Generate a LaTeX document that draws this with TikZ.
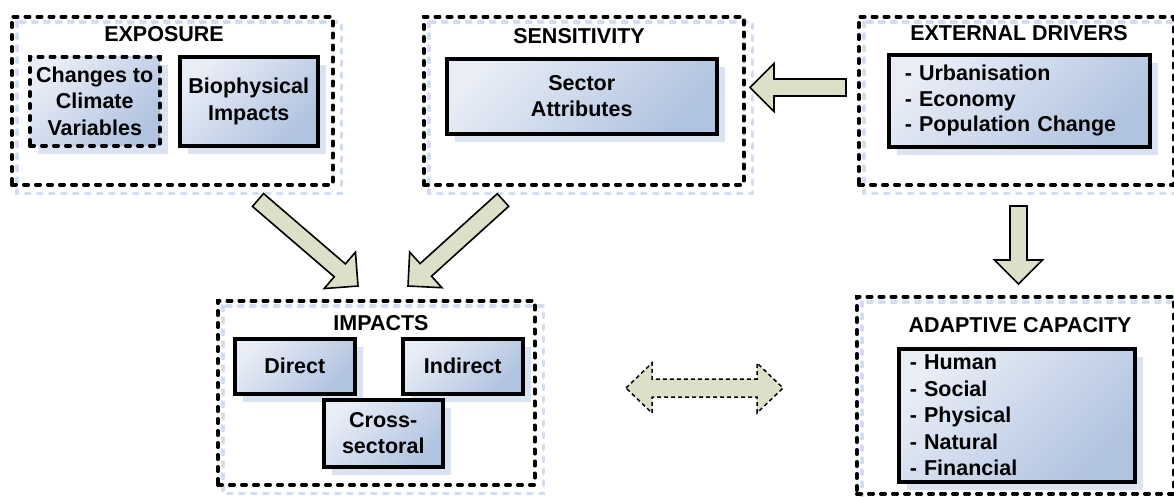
\documentclass[tikz,border=0pt]{standalone}
\usepackage{fontspec}
\setmainfont{Liberation Sans}
\usetikzlibrary{calc,shadows,backgrounds}
\definecolor{shadowblue}{RGB}{210,221,240}
\definecolor{itemshadow}{RGB}{218,227,242}
\definecolor{boxlight}{RGB}{232,237,246}
\definecolor{boxdark}{RGB}{176,195,224}
\definecolor{arrowfill}{RGB}{221,224,200}
\tikzset{
  groupbox/.style={draw=black, line width=3.5pt, dash pattern=on 4.5pt off 7.5pt, line cap=round, anchor=north west, inner sep=0pt},
  groupshadow/.style={draw=shadowblue, line width=3.5pt, dash pattern=on 4.5pt off 7.5pt, line cap=round},
  grouptitle/.style={font=\fontsize{21.5}{26}\selectfont\bfseries, anchor=base, inner sep=0pt},
  itembox/.style={draw=black, line width=3.5pt, anchor=north west, top color=boxlight, bottom color=boxdark, shading angle=45,
    drop shadow={shadow xshift=8pt, shadow yshift=-8pt, fill=itemshadow, opacity=1},
    font=\fontsize{21.5}{26.5}\selectfont\bfseries, align=center, inner sep=0pt},
  dashedbox/.style={dash pattern=on 4.5pt off 7.5pt, line cap=round},
  listbox/.style={align=left},
  blockarrow/.style={draw=black, line width=1.6pt, fill=arrowfill, line join=miter},
  dblarrow/.style={draw=black, line width=1.5pt, fill=arrowfill, dash pattern=on 4pt off 3pt}
}
\newcommand\blockarrow[2]{%
  \coordinate (bab) at ($(#2)!24pt!(#1)$);
  \draw[blockarrow] ($(#1)!8.5pt!90:(#2)$) -- ($(bab)!8.5pt!90:(#2)$) -- ($(bab)!24pt!90:(#2)$) -- (#2)
    -- ($(bab)!24pt!-90:(#2)$) -- ($(bab)!8.5pt!-90:(#2)$) -- ($(#1)!8.5pt!-90:(#2)$) -- cycle;}
\begin{document}
\begin{tikzpicture}[x=1pt,y=-1pt]
\useasboundingbox (0,0) rectangle (1174,496);
% group boxes
\node[groupbox, minimum width=321pt, minimum height=168pt] (expo) at (10,15) {};
\node[groupbox, minimum width=320pt, minimum height=168pt] (sens) at (422,15) {};
\node[groupbox, minimum width=315pt, minimum height=168pt] (ext) at (857,15) {};
\node[groupbox, minimum width=317pt, minimum height=184pt] (imp) at (216,299) {};
\node[groupbox, minimum width=317pt, minimum height=197pt] (adap) at (855,295) {};
\begin{scope}[on background layer]
\foreach \g in {expo,sens,ext,imp,adap}
  \draw[groupshadow] ($(\g.north west)+(7,7)$) rectangle ($(\g.south east)+(7,7)$);
\end{scope}
% titles
\node[grouptitle] (expot) at (164,41.5) {EXPOSURE};
\node[grouptitle] (senst) at (579,43) {SENSITIVITY};
\node[grouptitle] (extt) at (1019,40.7) {EXTERNAL DRIVERS};
\node[grouptitle] (impt) at (381,330.7) {IMPACTS};
\node[grouptitle] (adapt) at (1020,332.7) {ADAPTIVE CAPACITY};
% item boxes
\node[itembox, dashedbox, minimum width=130pt, minimum height=89pt] (climate) at (28,55) {Changes to\\Climate\\Variables};
\node[itembox, minimum width=138pt, minimum height=89pt] (bio) at (178,55) {Biophysical\\Impacts};
\node[itembox, minimum width=270pt, minimum height=75pt] (sector) at (445,57) {Sector\\Attributes};
\node[itembox, listbox, font=\fontsize{21.5}{25.3}\selectfont\bfseries, text width=229pt, inner xsep=16pt, minimum height=92pt] (drivers) at (887,53) {- Urbanisation\\- Economy\\- Population Change};
\node[itembox, minimum width=120pt, minimum height=55pt] (direct) at (233,337) {Direct};
\node[itembox, minimum width=120pt, minimum height=55pt] (indirect) at (401,337) {Indirect};
\node[itembox, minimum width=119pt, minimum height=67pt] (cross) at (322,398) {Cross-\\sectoral};
\node[itembox, listbox, text width=214pt, inner xsep=11pt, minimum height=133pt] (capacity) at (897,347) {- Human\\- Social\\- Physical\\- Natural\\- Financial};
% block arrows
\coordinate (e1) at (258,200); \coordinate (e2) at (358,286);
\coordinate (s1) at (503,200); \coordinate (s2) at (408,286);
\coordinate (x1) at (846,87.5); \coordinate (x2) at (750,87.5);
\coordinate (d1) at (1018.5,206); \coordinate (d2) at (1018.5,284);
\blockarrow{e1}{e2}
\blockarrow{s1}{s2}
\blockarrow{x1}{x2}
\blockarrow{d1}{d2}
% double arrow
\coordinate (dl) at (626,388); \coordinate (dr) at (783,388);
\draw[dblarrow] (dl) -- ++(26,-25) -- ++(0,16) -- ($(dr)+(-26,-9)$) -- ++(0,-16) -- (dr) -- ++(-26,25) -- ++(0,-16)
  -- ($(dl)+(26,9)$) -- ++(0,16) -- cycle;
\end{tikzpicture}
\end{document}
